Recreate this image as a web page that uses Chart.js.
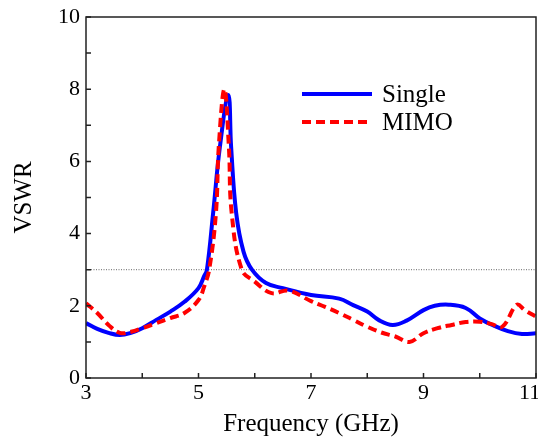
<!DOCTYPE html>
<html>
<head>
<meta charset="utf-8">
<script src="https://cdn.jsdelivr.net/npm/chart.js@4/dist/chart.umd.min.js"></script>
<style>
    html, body { margin: 0; padding: 0; background: #fff; }
    #wrap { width: 538px; height: 439px; }
</style>
</head>
<body>
<div id="wrap"><canvas id="vswr-chart"></canvas></div>
<script>
// frequency (GHz) and VSWR
const freqSingle = [3.0, 3.2, 3.4, 3.6, 3.8, 4.0, 4.25, 4.5, 4.75, 5.0, 5.1, 5.15, 5.26, 5.38, 5.53, 5.58, 5.67, 5.8, 5.95, 6.2, 6.5, 7.0, 7.5, 7.75, 8.0, 8.2, 8.45, 8.7, 9.0, 9.2, 9.45, 9.75, 10.0, 10.25, 10.5, 10.75, 11.0];
const vswrSingle = [1.52, 1.36, 1.25, 1.19, 1.25, 1.38, 1.61, 1.84, 2.11, 2.49, 2.82, 3.0, 4.57, 6.4, 7.84, 6.4, 4.57, 3.5, 3.0, 2.63, 2.49, 2.3, 2.2, 2.02, 1.84, 1.61, 1.47, 1.59, 1.88, 2.0, 2.03, 1.94, 1.65, 1.45, 1.30, 1.22, 1.24];

const freqMimo = [3.0, 3.2, 3.4, 3.6, 3.8, 4.0, 4.25, 4.5, 4.75, 5.0, 5.1, 5.19, 5.31, 5.36, 5.46, 5.54, 5.59, 5.77, 6.0, 6.3, 6.6, 7.0, 7.25, 7.5, 7.75, 8.0, 8.25, 8.5, 8.75, 9.0, 9.25, 9.5, 9.75, 10.0, 10.2, 10.4, 10.66, 10.8, 11.0];
const vswrMimo = [2.07, 1.8, 1.47, 1.25, 1.28, 1.38, 1.52, 1.66, 1.8, 2.16, 2.53, 3.0, 4.57, 6.4, 8.0, 6.4, 4.57, 3.0, 2.67, 2.35, 2.42, 2.13, 1.97, 1.8, 1.61, 1.42, 1.26, 1.15, 1.0, 1.24, 1.38, 1.47, 1.55, 1.56, 1.50, 1.42, 2.03, 1.88, 1.70];

const xRange = [3, 11];
const yRange = [0, 10];
const threshold = 3;

const toPoints = (xs, ys) => xs.map((x, i) => ({ x: x, y: ys[i] }));

const serif = 'Liberation Serif, Times New Roman, serif';

// box around the plot, inward ticks, and a legend inside the plot area
const framePlugin = {
    id: 'frame',
    afterDatasetsDraw(chart) {
        const { ctx, chartArea: a, scales } = chart;
        ctx.save();
        ctx.strokeStyle = '#222';
        ctx.lineWidth = 1.5;
        ctx.strokeRect(a.left, a.top, a.right - a.left, a.bottom - a.top);

        ctx.beginPath();
        scales.x.ticks.forEach(t => {
            const px = scales.x.getPixelForValue(t.value);
            ctx.moveTo(px, a.bottom);
            ctx.lineTo(px, a.bottom - 5);
        });
        scales.y.ticks.forEach(t => {
            const py = scales.y.getPixelForValue(t.value);
            ctx.moveTo(a.left, py);
            ctx.lineTo(a.left + 5, py);
        });
        ctx.stroke();

        // legend
        let y = 94;
        chart.data.datasets.forEach(ds => {
            if (!ds.label) return;
            ctx.strokeStyle = ds.borderColor;
            ctx.lineWidth = ds.borderWidth;
            ctx.setLineDash(ds.borderDash || []);
            ctx.beginPath();
            ctx.moveTo(302, y);
            ctx.lineTo(372, y);
            ctx.stroke();
            ctx.setLineDash([]);
            ctx.fillStyle = '#000';
            ctx.font = '25px ' + serif;
            ctx.textBaseline = 'middle';
            ctx.fillText(ds.label, 382, y + 1);
            y += 28;
        });
        ctx.restore();
    }
};

const ctx = document.getElementById('vswr-chart').getContext('2d');
new Chart(ctx, {
    type: 'line',
    data: {
        datasets: [
            {
                label: '',
                data: toPoints(xRange, [threshold, threshold]),
                borderColor: '#666',
                borderWidth: 1,
                borderDash: [1, 1.5],
                pointRadius: 0,
                order: 3
            },
            {
                label: 'Single',
                data: toPoints(freqSingle, vswrSingle),
                borderColor: '#0000ff',
                borderWidth: 4,
                pointRadius: 0,
                tension: 0.4,
                order: 2
            },
            {
                label: 'MIMO',
                data: toPoints(freqMimo, vswrMimo),
                borderColor: '#ff0000',
                borderWidth: 4,
                borderDash: [9, 5],
                pointRadius: 0,
                tension: 0.4,
                order: 1
            }
        ]
    },
    options: {
        responsive: true,
        maintainAspectRatio: false,
        animation: false,
        layout: { padding: { left: 0, right: 2, top: 17, bottom: 0 } },
        plugins: {
            legend: { display: false },
            tooltip: { enabled: false }
        },
        scales: {
            x: {
                type: 'linear',
                min: xRange[0],
                max: xRange[1],
                grid: { display: false, drawTicks: false },
                border: { display: false },
                ticks: {
                    stepSize: 1,
                    padding: 2,
                    color: '#000',
                    font: { family: serif, size: 22 },
                    maxRotation: 0,
                    autoSkip: false,
                    // last label is pulled left so it stays on the canvas
                    callback: v => {
                        if (v % 2 !== 1) return '';
                        return v === xRange[1] ? v + '\u2002\u200A' : v;
                    }
                },
                title: {
                    display: true,
                    text: 'Frequency (GHz)',
                    color: '#000',
                    font: { family: serif, size: 25 },
                    padding: { top: 0, bottom: 0 }
                },
                afterFit: scale => {
                    scale.height = 61;
                    scale.paddingLeft = 0;
                    scale.paddingRight = 0;
                }
            },
            y: {
                min: yRange[0],
                max: yRange[1],
                grid: { display: false, drawTicks: false },
                border: { display: false },
                ticks: {
                    stepSize: 1,
                    padding: 6,
                    color: '#000',
                    font: { family: serif, size: 22 },
                    autoSkip: false,
                    callback: v => (v % 2 === 0 ? v : '')
                },
                title: {
                    display: true,
                    text: 'VSWR',
                    color: '#000',
                    font: { family: serif, size: 25 },
                    padding: { top: 9, bottom: 0 }
                },
                afterFit: scale => {
                    scale.width = 86;
                    scale.paddingTop = 0;
                    scale.paddingBottom = 0;
                }
            }
        }
    },
    plugins: [framePlugin]
});
</script>
</body>
</html>
